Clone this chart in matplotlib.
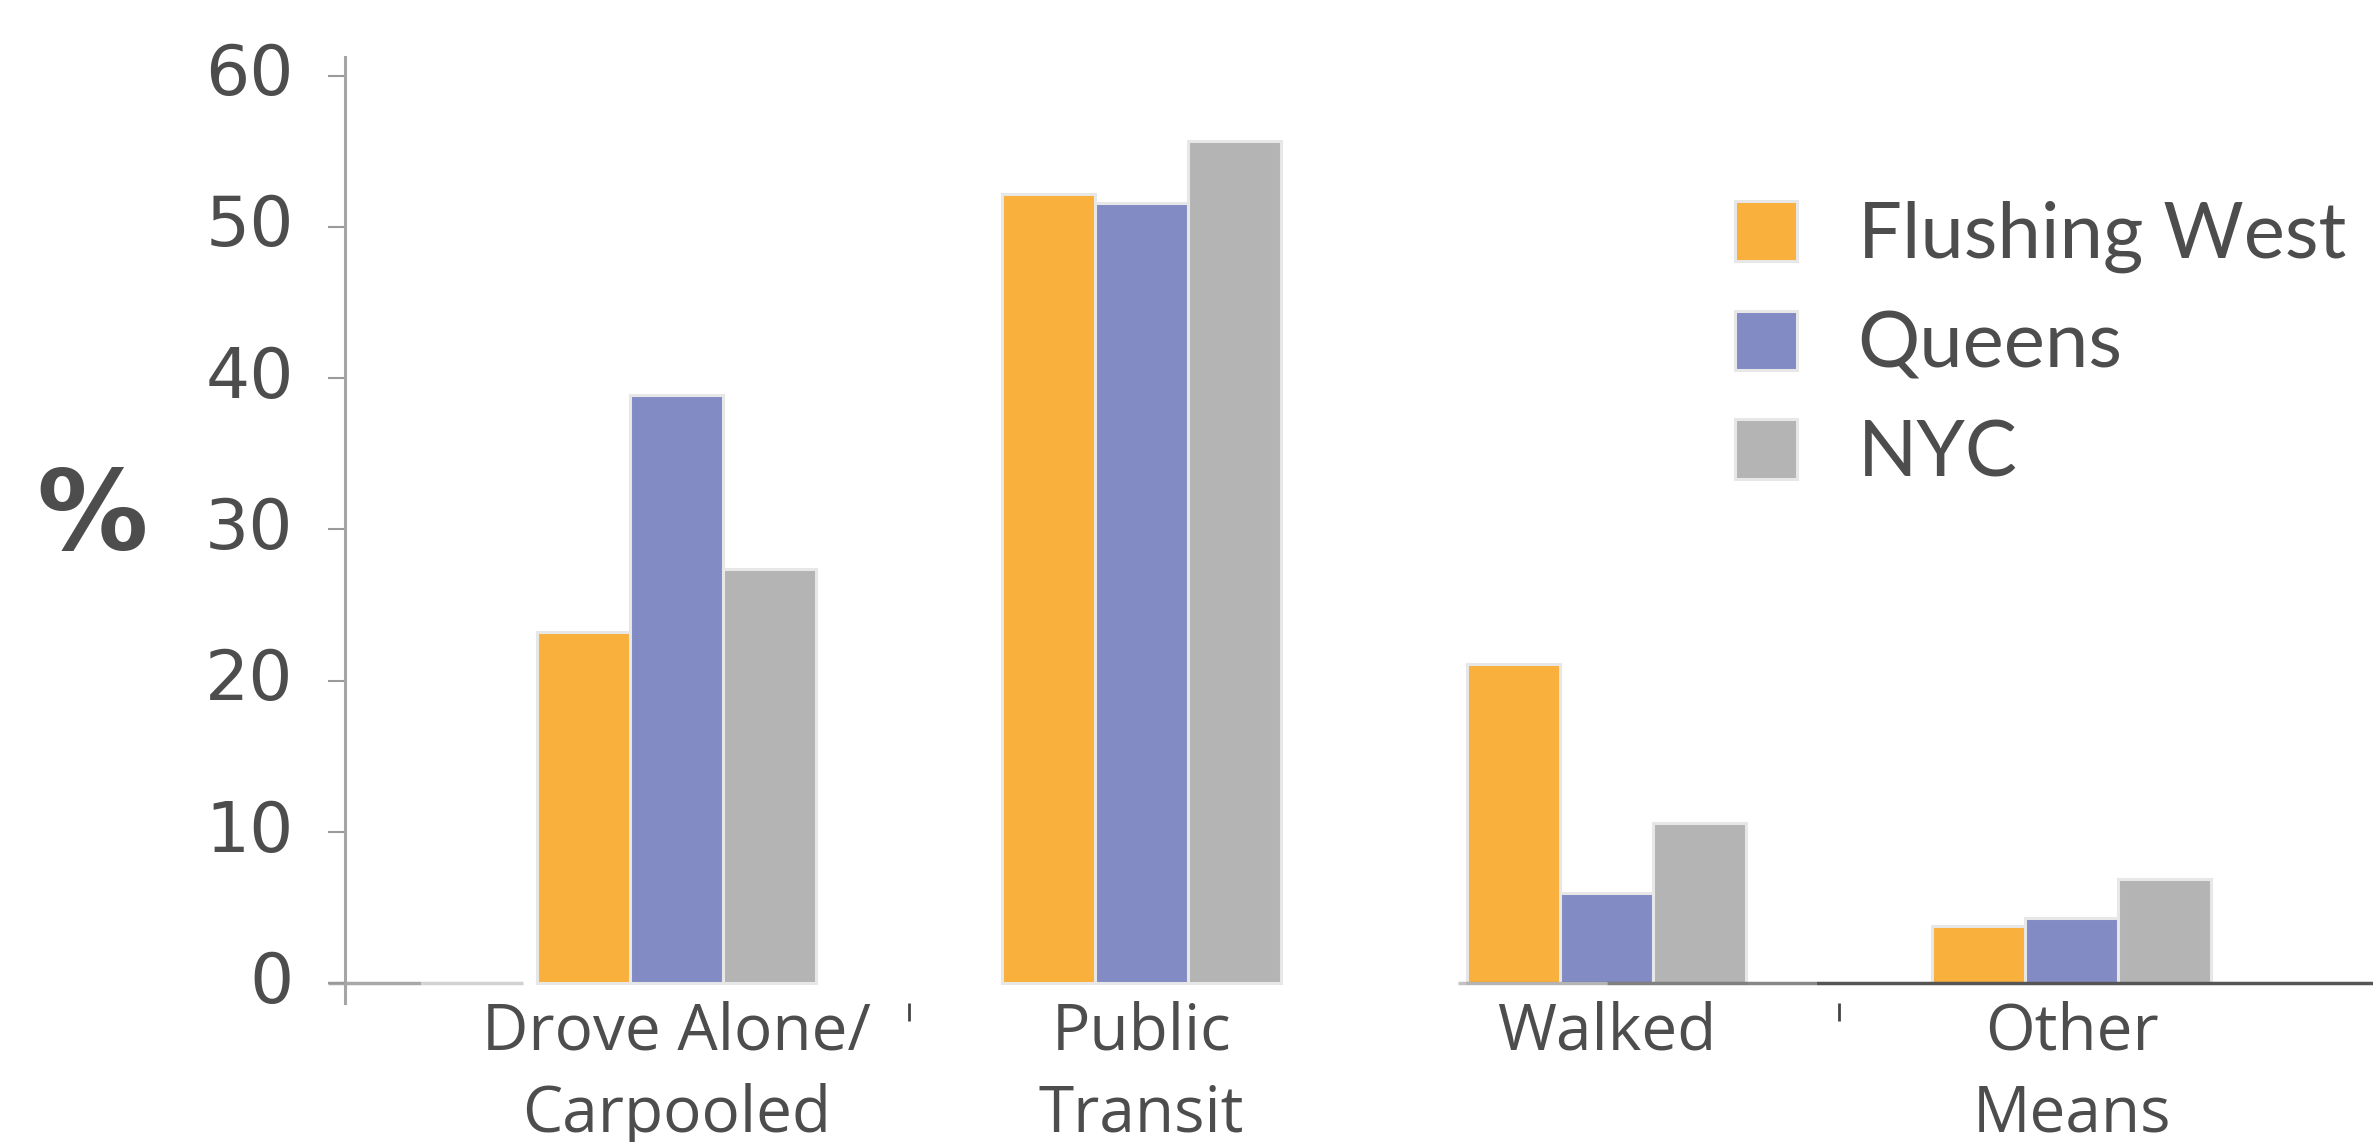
import matplotlib
matplotlib.use("Agg")
import matplotlib.pyplot as plt
from matplotlib.patches import Patch
from matplotlib.transforms import ScaledTranslation
import numpy as np

categories = ["Drove Alone/\nCarpooled", "Public\nTransit", "Walked", "Other\nMeans"]
series_names = ["Flushing West", "Queens", "NYC"]
flushing_west = [23.2, 52.2, 21.1, 3.8]
queens = [38.9, 51.6, 6.0, 4.3]
nyc = [27.4, 55.7, 10.6, 6.9]
y_ticks = [0, 10, 20, 30, 40, 50, 60]

colors = ["#F9B03C", "#828BC4", "#B3B4B3"]
edge = "#E6E7E6"
text_color = "#4D4D4D"

fig = plt.figure(figsize=(23.73, 11.42), dpi=100)
ax = fig.add_axes([0.1454, 0.1217, 0.8546, 0.828])

x = np.arange(len(categories))
width = 0.2
for i, (vals, c) in enumerate(zip([flushing_west, queens, nyc], colors)):
    ax.bar(x + (i - 1) * width, vals, width, color=c, edgecolor=edge,
           linewidth=2.2, zorder=2)

ax.set_xlim(-0.713, 3.648)
ax.set_ylim(-1.3, 61.2)

for s in ["top", "right", "bottom"]:
    ax.spines[s].set_visible(False)
ax.spines["left"].set_color("#A5A5A5")
ax.spines["left"].set_linewidth(2.2)

# zero line: a short light stub by the axis, then a rule that darkens to the right
ax.hlines(0, -0.75, -0.55, color="#A8A8A8", lw=2.5, zorder=1, clip_on=False)
ax.hlines(0, -0.55, -0.33, color="#D2D2D2", lw=2.5, zorder=1)
ax.hlines(0, 1.68, 2.0, color="#555555", lw=2.5, alpha=0.35, zorder=3)
ax.hlines(0, 2.0, 2.45, color="#555555", lw=2.5, alpha=0.7, zorder=3)
ax.hlines(0, 2.45, 3.648, color="#555555", lw=2.5, zorder=3)

ax.set_yticks(y_ticks)
ax.set_yticklabels([str(v) for v in y_ticks], fontsize=50,
                   family="DejaVu Sans", color=text_color)
ax.tick_params(axis="y", length=12, width=1.5, color="#9A9A9A", pad=25)
lift = ScaledTranslation(0, 5 / 72, fig.dpi_scale_trans)
for lab in ax.get_yticklabels():
    lab.set_transform(lab.get_transform() + lift)

ax.set_xticks(x)
ax.set_xticklabels(categories, fontsize=46, family="Open Sans",
                   color=text_color, linespacing=1.38)
ax.tick_params(axis="x", length=0, pad=-2)
ax.set_xticks([0.5, 2.5], minor=True)
ax.tick_params(axis="x", which="minor", length=13, width=2, color="#444444",
               direction="out")
ax.xaxis.get_minor_ticks()[1].tick1line.set_color("#C8C8C8")

ax.set_ylabel("%", rotation=0, fontsize=80, fontweight="bold",
              family="DejaVu Sans", color=text_color, ha="center", va="center")
ax.yaxis.set_label_coords(-0.1248, 0.512)

handles = [Patch(facecolor=c, edgecolor=edge, linewidth=2.2) for c in colors]
fig.legend(handles, series_names, loc="upper left",
           bbox_to_anchor=(0.731, 0.824), frameon=False,
           prop={"family": "Lato", "size": 56}, labelcolor=text_color,
           handlelength=0.8, handleheight=0.8, handletextpad=0.78,
           labelspacing=0.48, borderpad=0, borderaxespad=0)

fig.savefig("out.png", dpi=100, facecolor="white")
